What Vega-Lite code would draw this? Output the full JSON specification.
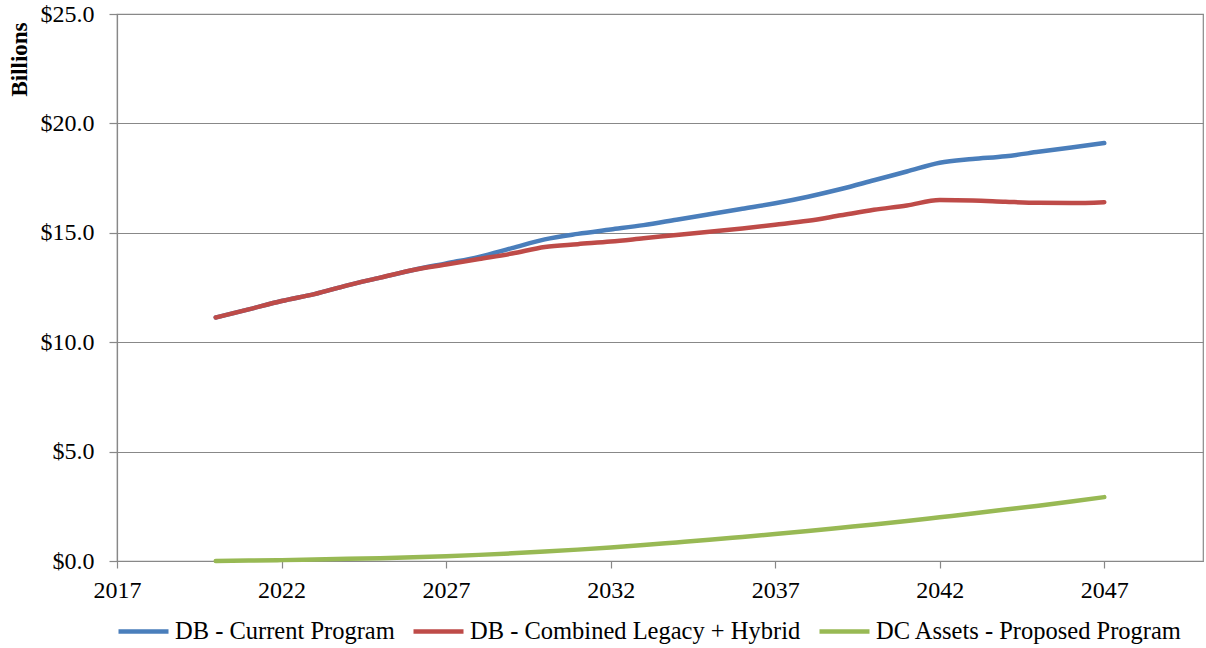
{
  "$schema": "https://vega.github.io/schema/vega-lite/v6.json",
  "width": 1086,
  "height": 547,
  "autosize": {"type": "none"},
  "padding": {"left": 117, "top": 14, "right": 3, "bottom": 87},
  "background": "white",
  "config": {
    "view": {"stroke": "#888888", "strokeWidth": 1.2},
    "font": "Liberation Serif"
  },
  "datasets": {
    "series": [
      {"series": "DB - Current Program", "year": 2020, "value": 11.13},
      {"series": "DB - Current Program", "year": 2021, "value": 11.5},
      {"series": "DB - Current Program", "year": 2022, "value": 11.88},
      {"series": "DB - Current Program", "year": 2023, "value": 12.2},
      {"series": "DB - Current Program", "year": 2024, "value": 12.6},
      {"series": "DB - Current Program", "year": 2025, "value": 12.95},
      {"series": "DB - Current Program", "year": 2026, "value": 13.3},
      {"series": "DB - Current Program", "year": 2027, "value": 13.6},
      {"series": "DB - Current Program", "year": 2028, "value": 13.9},
      {"series": "DB - Current Program", "year": 2029, "value": 14.3},
      {"series": "DB - Current Program", "year": 2030, "value": 14.7},
      {"series": "DB - Current Program", "year": 2031, "value": 14.95},
      {"series": "DB - Current Program", "year": 2032, "value": 15.15},
      {"series": "DB - Current Program", "year": 2033, "value": 15.35},
      {"series": "DB - Current Program", "year": 2034, "value": 15.6},
      {"series": "DB - Current Program", "year": 2035, "value": 15.85},
      {"series": "DB - Current Program", "year": 2036, "value": 16.1},
      {"series": "DB - Current Program", "year": 2037, "value": 16.35},
      {"series": "DB - Current Program", "year": 2038, "value": 16.65},
      {"series": "DB - Current Program", "year": 2039, "value": 17.0},
      {"series": "DB - Current Program", "year": 2040, "value": 17.4},
      {"series": "DB - Current Program", "year": 2041, "value": 17.8},
      {"series": "DB - Current Program", "year": 2042, "value": 18.2},
      {"series": "DB - Current Program", "year": 2043, "value": 18.37},
      {"series": "DB - Current Program", "year": 2044, "value": 18.5},
      {"series": "DB - Current Program", "year": 2045, "value": 18.7},
      {"series": "DB - Current Program", "year": 2046, "value": 18.9},
      {"series": "DB - Current Program", "year": 2047, "value": 19.1},
      {"series": "DB - Combined Legacy + Hybrid", "year": 2020, "value": 11.13},
      {"series": "DB - Combined Legacy + Hybrid", "year": 2021, "value": 11.5},
      {"series": "DB - Combined Legacy + Hybrid", "year": 2022, "value": 11.88},
      {"series": "DB - Combined Legacy + Hybrid", "year": 2023, "value": 12.2},
      {"series": "DB - Combined Legacy + Hybrid", "year": 2024, "value": 12.6},
      {"series": "DB - Combined Legacy + Hybrid", "year": 2025, "value": 12.95},
      {"series": "DB - Combined Legacy + Hybrid", "year": 2026, "value": 13.3},
      {"series": "DB - Combined Legacy + Hybrid", "year": 2027, "value": 13.55},
      {"series": "DB - Combined Legacy + Hybrid", "year": 2028, "value": 13.8},
      {"series": "DB - Combined Legacy + Hybrid", "year": 2029, "value": 14.05},
      {"series": "DB - Combined Legacy + Hybrid", "year": 2030, "value": 14.35},
      {"series": "DB - Combined Legacy + Hybrid", "year": 2031, "value": 14.48},
      {"series": "DB - Combined Legacy + Hybrid", "year": 2032, "value": 14.6},
      {"series": "DB - Combined Legacy + Hybrid", "year": 2033, "value": 14.75},
      {"series": "DB - Combined Legacy + Hybrid", "year": 2034, "value": 14.9},
      {"series": "DB - Combined Legacy + Hybrid", "year": 2035, "value": 15.05},
      {"series": "DB - Combined Legacy + Hybrid", "year": 2036, "value": 15.2},
      {"series": "DB - Combined Legacy + Hybrid", "year": 2037, "value": 15.37},
      {"series": "DB - Combined Legacy + Hybrid", "year": 2038, "value": 15.55},
      {"series": "DB - Combined Legacy + Hybrid", "year": 2039, "value": 15.8},
      {"series": "DB - Combined Legacy + Hybrid", "year": 2040, "value": 16.05},
      {"series": "DB - Combined Legacy + Hybrid", "year": 2041, "value": 16.25},
      {"series": "DB - Combined Legacy + Hybrid", "year": 2042, "value": 16.5},
      {"series": "DB - Combined Legacy + Hybrid", "year": 2043, "value": 16.48},
      {"series": "DB - Combined Legacy + Hybrid", "year": 2044, "value": 16.42},
      {"series": "DB - Combined Legacy + Hybrid", "year": 2045, "value": 16.37},
      {"series": "DB - Combined Legacy + Hybrid", "year": 2046, "value": 16.36},
      {"series": "DB - Combined Legacy + Hybrid", "year": 2047, "value": 16.4},
      {"series": "DC Assets - Proposed Program", "year": 2020, "value": 0.0},
      {"series": "DC Assets - Proposed Program", "year": 2021, "value": 0.02},
      {"series": "DC Assets - Proposed Program", "year": 2022, "value": 0.04},
      {"series": "DC Assets - Proposed Program", "year": 2023, "value": 0.07},
      {"series": "DC Assets - Proposed Program", "year": 2024, "value": 0.1},
      {"series": "DC Assets - Proposed Program", "year": 2025, "value": 0.13},
      {"series": "DC Assets - Proposed Program", "year": 2026, "value": 0.17},
      {"series": "DC Assets - Proposed Program", "year": 2027, "value": 0.22},
      {"series": "DC Assets - Proposed Program", "year": 2028, "value": 0.28},
      {"series": "DC Assets - Proposed Program", "year": 2029, "value": 0.35},
      {"series": "DC Assets - Proposed Program", "year": 2030, "value": 0.43},
      {"series": "DC Assets - Proposed Program", "year": 2031, "value": 0.52},
      {"series": "DC Assets - Proposed Program", "year": 2032, "value": 0.62},
      {"series": "DC Assets - Proposed Program", "year": 2033, "value": 0.73},
      {"series": "DC Assets - Proposed Program", "year": 2034, "value": 0.85},
      {"series": "DC Assets - Proposed Program", "year": 2035, "value": 0.97},
      {"series": "DC Assets - Proposed Program", "year": 2036, "value": 1.1},
      {"series": "DC Assets - Proposed Program", "year": 2037, "value": 1.23},
      {"series": "DC Assets - Proposed Program", "year": 2038, "value": 1.37},
      {"series": "DC Assets - Proposed Program", "year": 2039, "value": 1.52},
      {"series": "DC Assets - Proposed Program", "year": 2040, "value": 1.67},
      {"series": "DC Assets - Proposed Program", "year": 2041, "value": 1.83},
      {"series": "DC Assets - Proposed Program", "year": 2042, "value": 2.0},
      {"series": "DC Assets - Proposed Program", "year": 2043, "value": 2.17},
      {"series": "DC Assets - Proposed Program", "year": 2044, "value": 2.35},
      {"series": "DC Assets - Proposed Program", "year": 2045, "value": 2.53},
      {"series": "DC Assets - Proposed Program", "year": 2046, "value": 2.72},
      {"series": "DC Assets - Proposed Program", "year": 2047, "value": 2.92}
    ]
  },
  "data": {"name": "series"},
  "mark": {"type": "line", "interpolate": "monotone", "strokeWidth": 4.5, "strokeCap": "round", "strokeJoin": "round"},
  "encoding": {
    "x": {
      "field": "year",
      "type": "quantitative",
      "scale": {"domain": [2017, 2050], "nice": false, "zero": false},
      "axis": {
        "values": [2017, 2022, 2027, 2032, 2037, 2042, 2047],
        "format": "d",
        "title": null,
        "grid": false,
        "labelFlush": false,
        "tickSize": 7,
        "tickWidth": 1.2,
        "tickColor": "#888888",
        "domainColor": "#888888",
        "domainWidth": 1.2,
        "labelFont": "Liberation Serif",
        "labelFontSize": 24,
        "labelColor": "#000000",
        "labelPadding": 10
      }
    },
    "y": {
      "field": "value",
      "type": "quantitative",
      "scale": {"domain": [0, 25], "nice": false},
      "axis": {
        "values": [0, 5, 10, 15, 20, 25],
        "format": "$.1f",
        "title": "Billions",
        "titleFont": "Liberation Serif",
        "titleFontSize": 23,
        "titleFontWeight": "bold",
        "titleColor": "#000000",
        "titleAngle": -90,
        "titleAlign": "center",
        "titleBaseline": "middle",
        "titleX": -98,
        "titleY": 45,
        "grid": true,
        "gridColor": "#888888",
        "gridWidth": 1.2,
        "labelFlush": false,
        "tickSize": 8,
        "tickWidth": 1.2,
        "tickColor": "#888888",
        "domainColor": "#888888",
        "domainWidth": 1.2,
        "labelFont": "Liberation Serif",
        "labelFontSize": 24,
        "labelColor": "#000000",
        "labelPadding": 15
      }
    },
    "color": {
      "field": "series",
      "type": "nominal",
      "scale": {
        "domain": ["DB - Current Program", "DB - Combined Legacy + Hybrid", "DC Assets - Proposed Program"],
        "range": ["#4A7EBB", "#BE4B48", "#98B954"]
      },
      "legend": {
        "title": null,
        "orient": "none",
        "direction": "horizontal",
        "legendX": -1,
        "legendY": 590,
        "padding": 0,
        "symbolType": "stroke",
        "symbolSize": 2500,
        "symbolStrokeWidth": 4.5,
        "labelFont": "Liberation Serif",
        "labelFontSize": 24.5,
        "labelColor": "#000000",
        "labelOffset": 4,
        "columnPadding": 9,
        "labelLimit": 500
      }
    }
  }
}
